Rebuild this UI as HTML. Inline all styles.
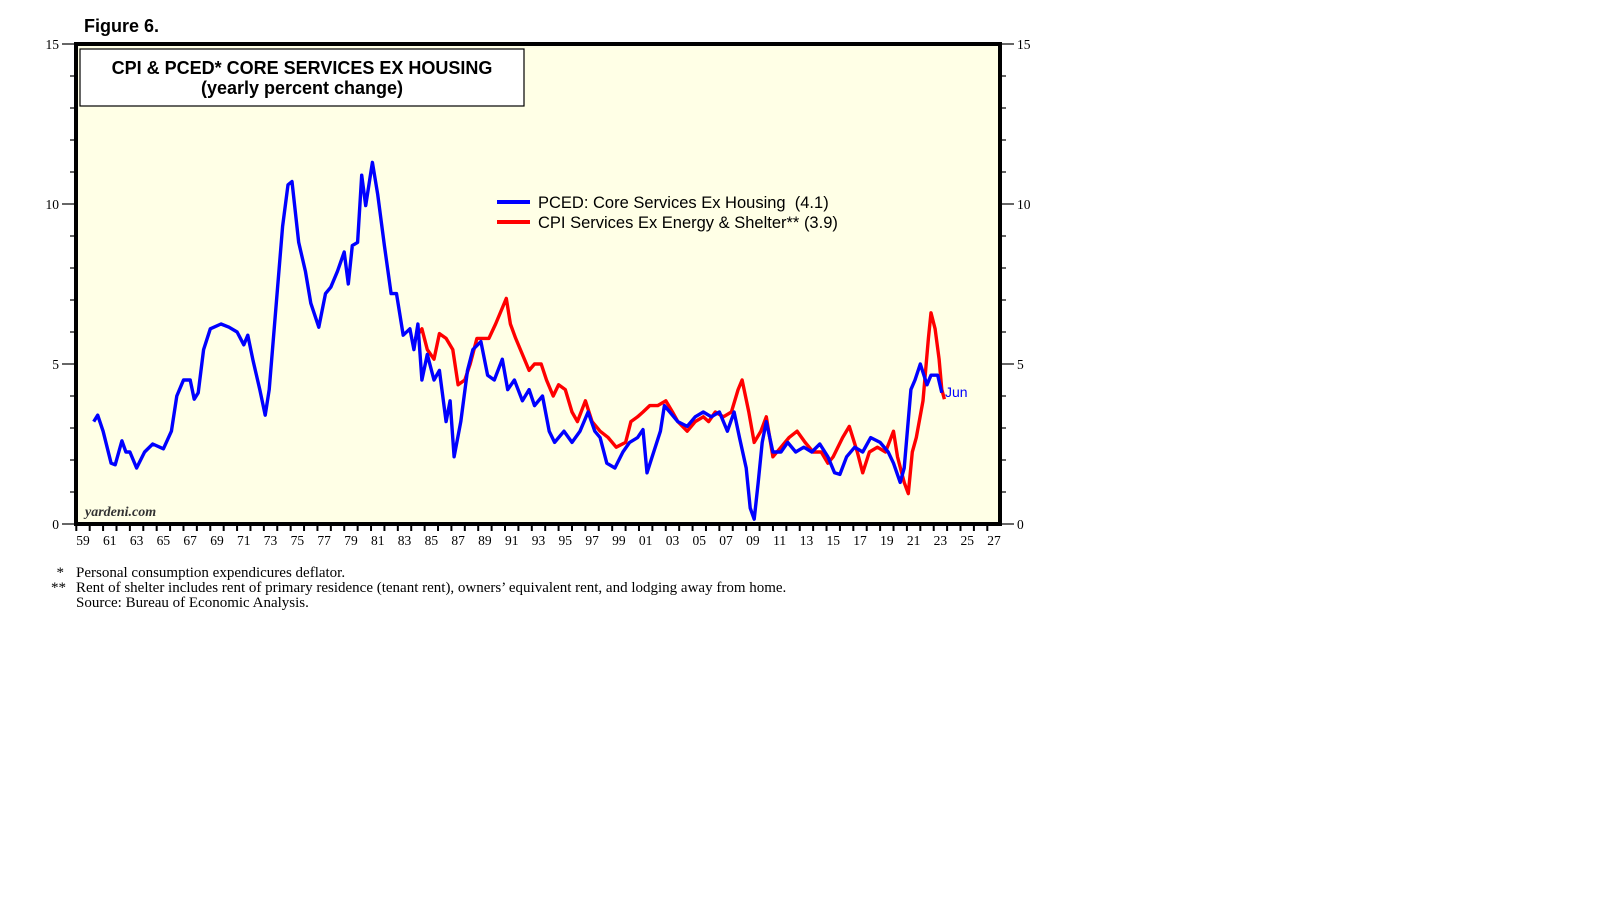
<!DOCTYPE html>
<html><head><meta charset="utf-8">
<style>
body{margin:0;background:#fff;width:1610px;height:910px;overflow:hidden}
svg{display:block}
.ser{font-family:"Liberation Serif",serif}
.san{font-family:"Liberation Sans",sans-serif}
</style></head><body>
<svg id="chart" width="1610" height="910">
<text x="84" y="32" class="san" font-size="18" font-weight="bold">Figure 6.</text>
<rect x="76" y="44" width="924" height="480" fill="#ffffe6"/>
<g id="ticks"></g>
<g id="lines"></g>
<rect x="76" y="44" width="924" height="480" fill="none" stroke="#000" stroke-width="4"/>
<rect x="80" y="49" width="444" height="57" fill="#fff" stroke="#000" stroke-width="1.2"/>
<text x="302" y="74" text-anchor="middle" class="san" font-size="18" font-weight="bold">CPI &amp; PCED* CORE SERVICES EX HOUSING</text>
<text x="302" y="94" text-anchor="middle" class="san" font-size="18" font-weight="bold">(yearly percent change)</text>
<line x1="497" y1="202" x2="530" y2="202" stroke="#0000ff" stroke-width="4"/>
<text x="538" y="208" class="san" font-size="16.5" xml:space="preserve">PCED: Core Services Ex Housing  (4.1)</text>
<line x1="497" y1="222" x2="530" y2="222" stroke="#ff0000" stroke-width="4"/>
<text x="538" y="228" class="san" font-size="16.5">CPI Services Ex Energy &amp; Shelter** (3.9)</text>
<text x="945" y="397" class="san" font-size="14" fill="#0000ff">Jun</text>
<text x="85" y="516" class="ser" font-size="14" font-style="italic" font-weight="bold" fill="#333">yardeni.com</text>
<g class="ser" font-size="15">
<text x="64" y="577" text-anchor="end">*</text>
<text x="76" y="577">Personal consumption expendicures deflator.</text>
<text x="66" y="592" text-anchor="end">**</text>
<text x="76" y="592">Rent of shelter includes rent of primary residence (tenant rent), owners’ equivalent rent, and lodging away from home.</text>
<text x="76" y="607">Source: Bureau of Economic Analysis.</text>
</g>
</svg>
<script>
const yTicks=[0,5,10,15];
const xLabels=["59","61","63","65","67","69","71","73","75","77","79","81","83","85","87","89","91","93","95","97","99","01","03","05","07","09","11","13","15","17","19","21","23","25","27"];
const pcedYears=[1959.8,1960.1,1960.5,1961.1,1961.4,1961.9,1962.2,1962.5,1963.0,1963.6,1964.2,1965.0,1965.6,1966.0,1966.5,1967.0,1967.3,1967.6,1968.0,1968.5,1969.3,1969.9,1970.5,1971.0,1971.3,1971.7,1972.2,1972.6,1972.9,1973.4,1973.9,1974.3,1974.6,1975.1,1975.6,1976.0,1976.6,1977.1,1977.5,1978.0,1978.5,1978.8,1979.1,1979.5,1979.8,1980.1,1980.6,1981.0,1981.5,1982.0,1982.4,1982.9,1983.4,1983.7,1984.0,1984.3,1984.7,1985.2,1985.6,1986.1,1986.4,1986.7,1987.2,1987.7,1988.1,1988.7,1989.2,1989.7,1990.3,1990.7,1991.2,1991.8,1992.3,1992.7,1993.3,1993.8,1994.2,1994.9,1995.5,1996.1,1996.7,1997.2,1997.6,1998.1,1998.7,1999.3,1999.8,2000.4,2000.8,2001.1,2001.6,2002.1,2002.4,2002.8,2003.4,2004.1,2004.7,2005.3,2005.9,2006.5,2007.1,2007.6,2008.0,2008.5,2008.8,2009.1,2009.4,2009.7,2010.0,2010.5,2011.1,2011.6,2012.2,2012.8,2013.4,2014.0,2014.6,2015.1,2015.5,2016.0,2016.6,2017.2,2017.8,2018.5,2019.1,2019.5,2020.0,2020.3,2020.8,2021.1,2021.5,2022.0,2022.3,2022.8,2023.1];
const pcedValues=[3.2,3.4,2.9,1.9,1.85,2.6,2.25,2.25,1.75,2.25,2.5,2.35,2.9,4.0,4.5,4.5,3.9,4.1,5.45,6.1,6.25,6.15,6.0,5.6,5.9,5.1,4.2,3.4,4.2,6.75,9.3,10.6,10.7,8.8,7.9,6.9,6.15,7.2,7.4,7.9,8.5,7.5,8.7,8.8,10.9,9.95,11.3,10.3,8.7,7.2,7.2,5.9,6.1,5.45,6.25,4.5,5.3,4.5,4.8,3.2,3.85,2.1,3.2,4.8,5.45,5.7,4.65,4.5,5.15,4.2,4.5,3.85,4.2,3.7,4.0,2.9,2.55,2.9,2.55,2.9,3.5,2.9,2.7,1.9,1.75,2.25,2.55,2.7,2.95,1.6,2.25,2.9,3.7,3.5,3.2,3.05,3.35,3.5,3.35,3.5,2.9,3.5,2.7,1.75,0.5,0.15,1.3,2.55,3.2,2.25,2.25,2.55,2.25,2.4,2.25,2.5,2.1,1.6,1.55,2.1,2.4,2.25,2.7,2.55,2.25,1.9,1.3,1.75,4.2,4.5,5.0,4.35,4.65,4.65,4.1];
const cpiYears=[1983.8,1984.3,1984.7,1985.2,1985.6,1986.1,1986.6,1987.0,1987.5,1987.9,1988.4,1988.9,1989.3,1989.8,1990.3,1990.6,1990.9,1991.3,1991.8,1992.3,1992.7,1993.2,1993.6,1994.1,1994.5,1995.0,1995.5,1995.9,1996.5,1997.0,1997.6,1998.2,1998.8,1999.5,1999.9,2000.4,2000.8,2001.3,2001.9,2002.5,2003.0,2003.4,2004.1,2004.7,2005.3,2005.7,2006.2,2006.8,2007.4,2007.9,2008.2,2008.7,2009.1,2009.6,2010.0,2010.5,2011.1,2011.7,2012.3,2012.9,2013.5,2014.1,2014.6,2015.0,2015.7,2016.2,2016.8,2017.2,2017.7,2018.3,2018.9,2019.5,2019.8,2020.3,2020.6,2020.9,2021.2,2021.7,2022.1,2022.3,2022.6,2022.9,2023.1,2023.3];
const cpiValues=[5.8,6.1,5.45,5.15,5.95,5.8,5.45,4.35,4.5,5.0,5.8,5.8,5.8,6.25,6.75,7.05,6.25,5.8,5.3,4.8,5.0,5.0,4.5,4.0,4.35,4.2,3.5,3.2,3.85,3.2,2.9,2.7,2.4,2.55,3.2,3.35,3.5,3.7,3.7,3.85,3.5,3.2,2.9,3.2,3.35,3.2,3.5,3.35,3.5,4.2,4.5,3.5,2.55,2.9,3.35,2.1,2.4,2.7,2.9,2.55,2.25,2.25,1.9,2.1,2.7,3.05,2.25,1.6,2.25,2.4,2.25,2.9,2.1,1.3,0.95,2.25,2.7,3.85,5.8,6.6,6.1,5.15,4.2,3.9];
const NS="http://www.w3.org/2000/svg";
const L=76,R=1000,T=44,B=524;
function yScale(v){return B-(v/15)*(B-T);}
function xScale(t){return 83+(t-1959)*(994-83)/68;}
const ticks=document.getElementById('ticks');
function ln(x1,y1,x2,y2,w){const l=document.createElementNS(NS,'line');l.setAttribute('x1',x1);l.setAttribute('y1',y1);l.setAttribute('x2',x2);l.setAttribute('y2',y2);l.setAttribute('stroke','#000');l.setAttribute('stroke-width',w||1.2);return l;}
for(let v=0;v<=15;v++){
  const y=yScale(v),maj=v%5===0;
  const a=ln(maj?62:70,y,L,y);
  
  
  ticks.appendChild(a);
  const b=ln(R,y,maj?1014:1006,y);
  
  
  ticks.appendChild(b);
}
yTicks.forEach(v=>{
  const y=yScale(v);
  const t1=document.createElementNS(NS,'text');
  t1.setAttribute('x',59);t1.setAttribute('y',y+5);t1.setAttribute('text-anchor','end');
  t1.setAttribute('class','ser');t1.setAttribute('font-size','13.5');t1.textContent=v;
  
  
  ticks.appendChild(t1);
  const t2=document.createElementNS(NS,'text');
  t2.setAttribute('x',1017);t2.setAttribute('y',y+5);
  t2.setAttribute('class','ser');t2.setAttribute('font-size','13.5');t2.textContent=v;
  
  
  ticks.appendChild(t2);
});
for(let yr=1959;yr<=2027;yr++){
  const x=xScale(yr)-6.7;
  if(x<L||x>R)continue;
  const t=ln(x,B,x,B+7,2);
  
  
  ticks.appendChild(t);
}
xLabels.forEach((s,i)=>{
  const t=document.createElementNS(NS,'text');
  t.setAttribute('x',xScale(1959+2*i));t.setAttribute('y',545);t.setAttribute('text-anchor','middle');
  t.setAttribute('class','ser');t.setAttribute('font-size','13.5');t.textContent=s;
  
  
  ticks.appendChild(t);
});
const lines=document.getElementById('lines');
function series(xs,vs,color,name){
  const p=document.createElementNS(NS,'polyline');
  p.setAttribute('points',xs.map((t,i)=>xScale(t).toFixed(1)+','+yScale(vs[i]).toFixed(1)).join(' '));
  p.setAttribute('fill','none');p.setAttribute('stroke',color);p.setAttribute('stroke-width','3.4');
  p.setAttribute('stroke-linejoin','round');
  
  
  lines.appendChild(p);
}
series(cpiYears,cpiValues,'#ff0000','cpi-services-line');
series(pcedYears,pcedValues,'#0000ff','pced-services-line');
</script>
</body></html>
